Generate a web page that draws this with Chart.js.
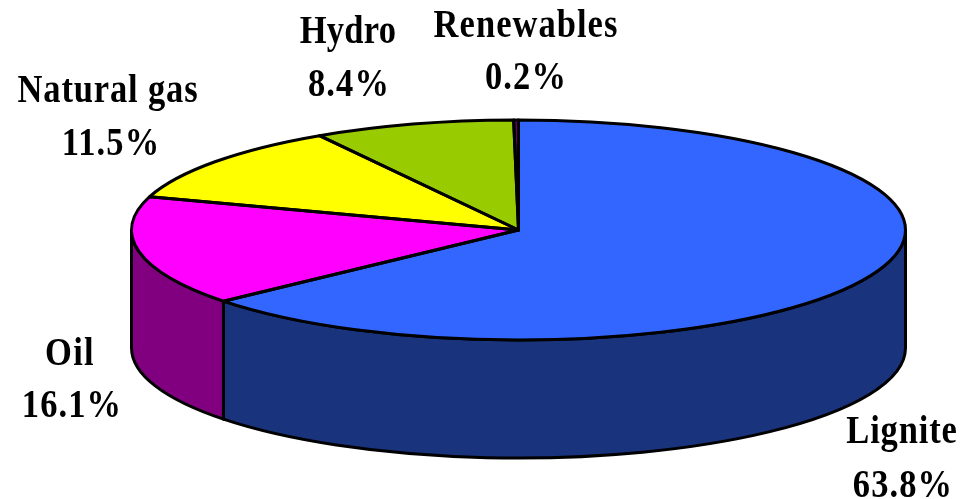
<!DOCTYPE html>
<html>
<head>
<meta charset="utf-8">
<style>
  html, body { margin: 0; padding: 0; background: #fff; }
  canvas { display: block; }
</style>
<script src="https://cdn.jsdelivr.net/npm/chart.js@4"></script>
</head>
<body>
<canvas id="fuel-chart" width="961" height="499"></canvas>
<script>
const labels = ['Lignite', 'Oil', 'Natural gas', 'Hydro', 'Renewables'];
const shares = [63.8, 16.1, 11.5, 8.4, 0.2];
const topColors = ['#3366ff', '#ff00ff', '#ffff00', '#99cc00', '#660066'];
const wallColors = ['#19337c', '#800080', '#808000', '#4d6600', '#330033'];

// name x and baseline, then percent x and baseline
const labelSpots = [
  [902, 443, 903, 497],
  [70, 365, 72, 417],
  [108, 102, 111, 155],
  [348, 43, 349, 96],
  [526, 37, 526, 89],
];
const nameSpacing = [1, 1.5, 1, 0.3, 1.2];
const percentSpacing = 1.3;

const squash = 110 / 387;
const depth = 118;
// the text in the picture is tall and narrow
const font = 'bold 40px "Liberation Serif", serif';
const textNarrow = 0.8625;

function arcs(chart) {
  return chart.getDatasetMeta(0).data;
}

const pie3d = {
  id: 'pie3d',
  beforeDatasetsDraw(chart) {
    const ctx = chart.ctx;
    ctx.save();
    ctx.lineWidth = 3;
    ctx.lineJoin = 'round';
    ctx.strokeStyle = '#000';

    // side wall, only the part of the rim that faces the viewer
    arcs(chart).forEach((arc, i) => {
      const a0 = Math.max(arc.startAngle, 0);
      const a1 = Math.min(arc.endAngle, Math.PI);
      if (a1 <= a0) return;
      const rx = arc.outerRadius;
      const ry = rx * squash;
      ctx.beginPath();
      ctx.ellipse(arc.x, arc.y, rx, ry, 0, a0, a1);
      ctx.ellipse(arc.x, arc.y + depth, rx, ry, 0, a1, a0, true);
      ctx.closePath();
      ctx.fillStyle = wallColors[i];
      ctx.fill();
      ctx.stroke();
    });
    ctx.restore();

    // flatten the pie the library is about to draw
    const first = arcs(chart)[0];
    ctx.save();
    ctx.translate(first.x, first.y);
    ctx.scale(1, squash);
    ctx.translate(-first.x, -first.y);
  },
  afterDatasetsDraw(chart) {
    const ctx = chart.ctx;
    ctx.restore();

    ctx.save();
    ctx.lineWidth = 3;
    ctx.lineJoin = 'round';
    ctx.strokeStyle = '#000';
    arcs(chart).forEach(arc => {
      const rx = arc.outerRadius;
      ctx.beginPath();
      ctx.moveTo(arc.x, arc.y);
      ctx.ellipse(arc.x, arc.y, rx, rx * squash, 0, arc.startAngle, arc.endAngle);
      ctx.closePath();
      ctx.stroke();
    });

    ctx.fillStyle = '#000';
    ctx.font = font;
    ctx.textAlign = 'center';
    ctx.scale(textNarrow, 1);
    labels.forEach((name, i) => {
      const [x1, y1, x2, y2] = labelSpots[i];
      ctx.letterSpacing = nameSpacing[i] + 'px';
      ctx.fillText(name, x1 / textNarrow, y1);
      ctx.letterSpacing = percentSpacing + 'px';
      ctx.fillText(shares[i].toFixed(1) + '%', x2 / textNarrow, y2);
    });
    ctx.restore();
  }
};

const data = {
  labels: labels,
  datasets: [{
    data: shares,
    backgroundColor: topColors,
    borderWidth: 0,
    clip: false,
  }]
};

const config = {
  type: 'pie',
  data: data,
  options: {
    responsive: false,
    animation: false,
    radius: 387,
    layout: { padding: { left: 76, bottom: 39 } },
    plugins: {
      legend: { display: false },
      tooltip: { enabled: false },
    },
  },
  plugins: [pie3d],
};

new Chart(document.getElementById('fuel-chart'), config);
</script>
</body>
</html>
